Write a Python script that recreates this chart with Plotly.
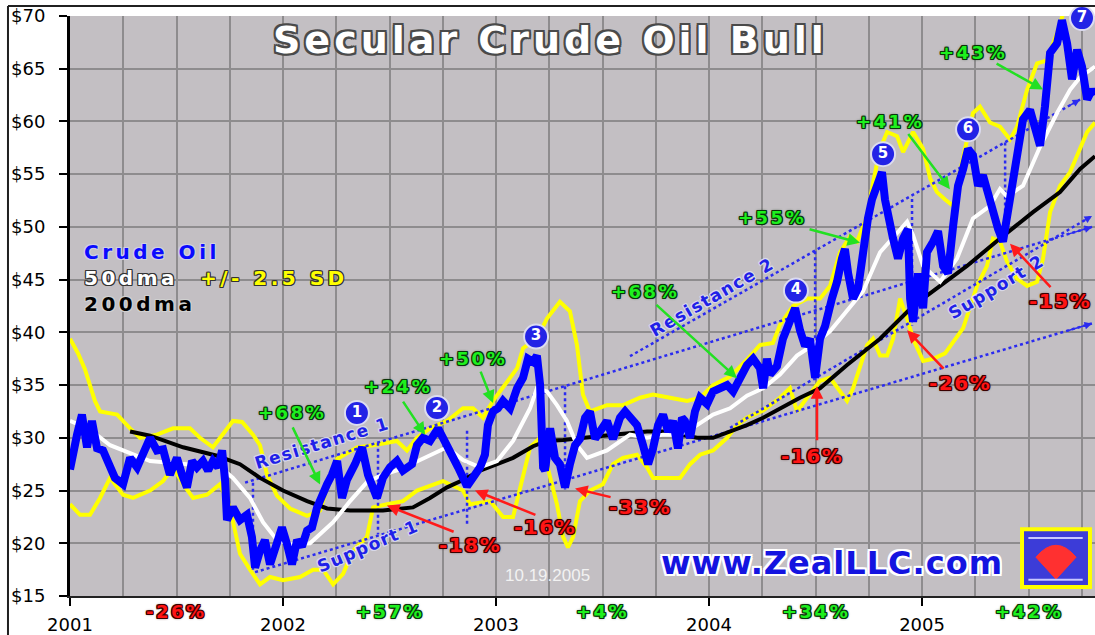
import plotly.graph_objects as go

# ---------------- data ----------------
crude_t = [2001.000, 2001.009, 2001.033, 2001.056, 2001.080, 2001.103, 2001.127, 2001.155, 2001.188, 2001.211,
           2001.249, 2001.282, 2001.315, 2001.343, 2001.376, 2001.408, 2001.437, 2001.469, 2001.502, 2001.526,
           2001.549, 2001.573, 2001.596, 2001.624, 2001.648, 2001.671, 2001.695, 2001.714, 2001.728, 2001.737,
           2001.765, 2001.798, 2001.831, 2001.854, 2001.869, 2001.892, 2001.915, 2001.939, 2001.972, 2001.995,
           2002.019, 2002.042, 2002.066, 2002.089, 2002.113, 2002.136, 2002.160, 2002.183, 2002.207, 2002.230,
           2002.254, 2002.277, 2002.300, 2002.338, 2002.371, 2002.399, 2002.423, 2002.441, 2002.469, 2002.502,
           2002.535, 2002.563, 2002.606, 2002.629, 2002.657, 2002.690, 2002.728, 2002.761, 2002.793, 2002.822,
           2002.864, 2002.892, 2002.925, 2002.948, 2002.962, 2002.986, 2003.009, 2003.033, 2003.066, 2003.099,
           2003.127, 2003.150, 2003.174, 2003.192, 2003.207, 2003.221, 2003.230, 2003.254, 2003.277, 2003.300,
           2003.324, 2003.347, 2003.371, 2003.394, 2003.418, 2003.441, 2003.465, 2003.488, 2003.521, 2003.549,
           2003.582, 2003.606, 2003.638, 2003.662, 2003.690, 2003.714, 2003.737, 2003.761, 2003.784, 2003.808,
           2003.831, 2003.854, 2003.873, 2003.887, 2003.911, 2003.934, 2003.958, 2003.991, 2004.019, 2004.052,
           2004.085, 2004.113, 2004.146, 2004.178, 2004.207, 2004.239, 2004.254, 2004.272, 2004.286, 2004.319,
           2004.347, 2004.380, 2004.404, 2004.427, 2004.451, 2004.474, 2004.498, 2004.521, 2004.545, 2004.577,
           2004.601, 2004.624, 2004.638, 2004.653, 2004.676, 2004.700, 2004.723, 2004.746, 2004.765, 2004.789,
           2004.812, 2004.826, 2004.840, 2004.864, 2004.887, 2004.911, 2004.934, 2004.944, 2004.958, 2004.981,
           2005.005, 2005.023, 2005.052, 2005.075, 2005.099, 2005.122, 2005.146, 2005.169, 2005.193, 2005.216,
           2005.239, 2005.263, 2005.286, 2005.310, 2005.333, 2005.357, 2005.380, 2005.404, 2005.427, 2005.451,
           2005.474, 2005.507, 2005.531, 2005.554, 2005.577, 2005.601, 2005.634, 2005.657, 2005.681, 2005.704,
           2005.728, 2005.751, 2005.775, 2005.798, 2005.812]
crude_p = [27.0, 28.2, 30.3, 32.2, 29.1, 31.6, 29.0, 28.8, 27.5, 26.2,
           25.6, 28.1, 27.2, 28.4, 30.0, 28.8, 28.9, 26.5, 28.1, 26.5,
           25.3, 27.8, 27.2, 27.8, 26.9, 27.8, 27.2, 28.8, 26.0, 22.2,
           23.4, 22.2, 22.7, 20.6, 17.7, 19.3, 20.3, 18.0, 20.4, 21.5,
           19.9, 18.0, 20.3, 19.7, 21.2, 21.5, 23.4, 24.6, 25.6, 26.5,
           27.8, 24.3, 26.0, 27.5, 29.1, 26.5, 25.0, 24.3, 26.2, 27.2,
           27.8, 26.9, 27.5, 29.3, 30.0, 29.7, 30.9, 29.7, 28.6, 27.2,
           25.4, 26.2, 27.2, 28.4, 31.2, 32.5, 32.8, 33.5, 32.8, 34.7,
           35.7, 37.5, 37.2, 37.8, 35.0, 27.2, 26.9, 30.9, 28.1, 27.5,
           25.3, 27.5, 29.3, 29.9, 31.9, 32.5, 29.9, 30.6, 31.6, 29.9,
           31.9, 32.5, 31.6, 31.2, 29.3, 27.5, 29.0, 31.2, 32.2, 30.6,
           31.6, 29.0, 31.9, 31.6, 30.0, 32.5, 33.8, 33.2, 34.4, 34.7,
           35.0, 34.4, 35.6, 36.9, 37.5, 36.6, 34.7, 37.5, 36.0, 36.8,
           39.4, 41.3, 42.3, 40.2, 38.7, 39.4, 35.7, 39.4, 40.6, 43.2,
           44.8, 47.0, 47.9, 45.6, 43.2, 44.2, 48.2, 50.8, 52.6, 53.8,
           55.2, 52.6, 51.0, 48.9, 47.0, 48.9, 49.8, 43.2, 41.0, 45.6,
           42.3, 47.6, 48.6, 49.6, 46.3, 45.6, 50.1, 53.9, 55.5, 57.4,
           56.8, 53.9, 54.9, 53.0, 51.4, 49.8, 48.6, 51.7, 54.9, 58.3,
           60.2, 61.1, 59.6, 57.7, 61.4, 66.5, 67.4, 69.6, 67.4, 64.0,
           66.8, 65.2, 62.1, 63.0, 62.5]

dma50_t = [2001.000, 2001.094, 2001.188, 2001.282, 2001.376, 2001.549, 2001.690, 2001.765, 2001.845, 2001.906,
           2001.972, 2002.033, 2002.127, 2002.235, 2002.315, 2002.394, 2002.469, 2002.549, 2002.690, 2002.770,
           2002.845, 2002.925, 2003.005, 2003.080, 2003.160, 2003.192, 2003.239, 2003.286, 2003.333, 2003.380,
           2003.427, 2003.521, 2003.629, 2003.709, 2003.784, 2003.864, 2003.944, 2004.019, 2004.099, 2004.178,
           2004.254, 2004.333, 2004.413, 2004.488, 2004.568, 2004.648, 2004.723, 2004.803, 2004.883, 2004.930,
           2004.958, 2005.005, 2005.085, 2005.164, 2005.239, 2005.319, 2005.366, 2005.399, 2005.474, 2005.554,
           2005.634, 2005.695, 2005.742, 2005.812]
dma50_p = [31.6, 30.8, 29.3, 28.5, 27.8, 27.5, 27.5, 26.2, 24.3, 22.0,
           20.3, 19.9, 20.0, 22.0, 24.0, 25.8, 26.5, 27.0, 28.4, 29.1,
           27.9, 27.2, 27.8, 29.7, 32.8, 34.7, 34.4, 33.1, 31.6, 29.3,
           28.1, 28.8, 30.3, 30.0, 30.3, 30.3, 31.2, 32.2, 32.8, 34.0,
           34.7, 36.0, 37.8, 38.8, 40.1, 42.0, 43.9, 47.6, 49.5, 50.5,
           49.2, 46.3, 44.8, 47.0, 50.8, 52.0, 53.6, 52.9, 53.9, 57.6,
           60.8, 63.0, 64.2, 65.2]

dma200_t = [2001.282, 2001.376, 2001.531, 2001.690, 2001.798, 2001.892, 2002.000, 2002.113, 2002.207, 2002.315,
            2002.469, 2002.610, 2002.690, 2002.770, 2002.845, 2002.925, 2003.005, 2003.080, 2003.174, 2003.239,
            2003.315, 2003.394, 2003.549, 2003.709, 2003.784, 2003.864, 2003.944, 2004.019, 2004.099, 2004.178,
            2004.254, 2004.333, 2004.427, 2004.521, 2004.648, 2004.803, 2004.958, 2005.085, 2005.211, 2005.366,
            2005.521, 2005.648, 2005.742, 2005.812]
dma200_p = [30.6, 30.2, 29.1, 28.3, 27.5, 26.2, 25.0, 24.0, 23.3, 23.1,
            23.1, 23.4, 24.3, 25.3, 26.0, 26.9, 27.5, 28.1, 29.2, 29.7,
            29.8, 30.0, 30.3, 30.6, 30.6, 30.3, 30.0, 30.0, 30.6, 31.2,
            31.9, 32.8, 33.8, 34.7, 36.9, 39.4, 42.5, 44.4, 46.3, 48.9,
            51.4, 53.3, 55.5, 56.7]

upper_t = [2001.000, 2001.038, 2001.070, 2001.117, 2001.141, 2001.221, 2001.282, 2001.329, 2001.408, 2001.484,
           2001.563, 2001.610, 2001.671, 2001.718, 2001.765, 2001.808, 2001.859, 2001.892, 2001.925, 2001.972,
           2002.033, 2002.113, 2002.174, 2002.221, 2002.254, 2002.348, 2002.423, 2002.535, 2002.582, 2002.629,
           2002.690, 2002.770, 2002.845, 2002.892, 2002.939, 2002.986, 2003.052, 2003.099, 2003.127, 2003.192,
           2003.239, 2003.300, 2003.347, 2003.380, 2003.408, 2003.441, 2003.521, 2003.596, 2003.676, 2003.737,
           2003.817, 2003.897, 2003.958, 2004.019, 2004.099, 2004.178, 2004.239, 2004.300, 2004.333, 2004.394,
           2004.460, 2004.521, 2004.568, 2004.615, 2004.662, 2004.695, 2004.742, 2004.770, 2004.803, 2004.836,
           2004.883, 2004.911, 2004.958, 2005.005, 2005.038, 2005.070, 2005.108, 2005.146, 2005.178, 2005.239,
           2005.272, 2005.319, 2005.366, 2005.413, 2005.446, 2005.493, 2005.540, 2005.587, 2005.634, 2005.662,
           2005.718, 2005.812]
upper_p = [39.4, 38.0, 36.5, 33.5, 32.5, 32.2, 30.9, 30.0, 30.3, 30.9,
           30.9, 30.0, 29.1, 30.3, 31.6, 31.5, 30.3, 29.3, 26.5, 24.5,
           23.3, 22.6, 23.1, 26.2, 28.0, 29.1, 29.3, 29.7, 28.8, 30.0,
           30.9, 31.6, 32.8, 32.8, 31.9, 33.5, 35.4, 36.6, 38.5, 39.4,
           41.3, 42.9, 42.0, 38.8, 34.1, 32.5, 33.1, 33.1, 33.8, 34.1,
           33.8, 33.5, 33.8, 35.0, 35.8, 37.4, 38.8, 39.0, 40.7, 42.5,
           43.2, 43.2, 44.4, 47.6, 49.1, 48.6, 51.0, 54.2, 57.4, 59.0,
           58.6, 57.1, 59.0, 57.4, 54.6, 53.3, 52.6, 52.0, 55.2, 60.8,
           61.4, 59.9, 59.5, 58.3, 59.5, 63.0, 65.5, 65.8, 68.4, 70.2,
           72.0, 72.5]

lower_t = [2001.000, 2001.047, 2001.094, 2001.141, 2001.188, 2001.249, 2001.296, 2001.376, 2001.437, 2001.484,
           2001.531, 2001.578, 2001.643, 2001.704, 2001.751, 2001.798, 2001.845, 2001.892, 2001.939, 2002.000,
           2002.080, 2002.141, 2002.188, 2002.235, 2002.282, 2002.329, 2002.394, 2002.423, 2002.488, 2002.563,
           2002.629, 2002.751, 2002.845, 2002.878, 2002.972, 2003.033, 2003.080, 2003.127, 2003.160, 2003.207,
           2003.254, 2003.286, 2003.315, 2003.338, 2003.362, 2003.394, 2003.441, 2003.502, 2003.549, 2003.596,
           2003.662, 2003.709, 2003.737, 2003.803, 2003.864, 2003.911, 2003.958, 2004.019, 2004.085, 2004.131,
           2004.178, 2004.254, 2004.333, 2004.380, 2004.413, 2004.460, 2004.521, 2004.568, 2004.615, 2004.648,
           2004.676, 2004.709, 2004.742, 2004.770, 2004.803, 2004.836, 2004.864, 2004.897, 2004.930, 2004.958,
           2005.005, 2005.052, 2005.108, 2005.193, 2005.258, 2005.305, 2005.333, 2005.366, 2005.399, 2005.446,
           2005.493, 2005.540, 2005.568, 2005.601, 2005.648, 2005.695, 2005.742, 2005.775, 2005.812]
lower_p = [23.7, 22.7, 22.7, 24.3, 26.2, 24.6, 24.3, 25.0, 25.9, 27.2,
           25.6, 24.3, 24.6, 25.6, 23.4, 19.0, 17.5, 16.1, 16.8, 16.5,
           16.8, 17.5, 17.5, 16.1, 17.1, 19.3, 20.6, 23.4, 23.7, 24.0,
           25.0, 25.9, 25.0, 23.7, 24.0, 22.5, 22.5, 26.5, 29.1, 30.0,
           26.2, 23.7, 20.6, 19.6, 20.6, 24.0, 25.0, 25.6, 27.5, 28.1,
           28.4, 27.2, 26.2, 26.2, 26.2, 27.5, 28.4, 28.8, 30.0, 31.2,
           31.9, 32.6, 33.8, 34.7, 32.5, 33.8, 35.4, 35.7, 34.4, 33.5,
           34.7, 36.9, 38.8, 39.4, 37.8, 37.8, 39.4, 43.2, 41.3, 39.4,
           37.3, 37.5, 38.0, 40.4, 44.4, 46.3, 48.9, 48.6, 46.7, 45.1,
           44.4, 44.8, 47.0, 51.4, 53.9, 55.2, 57.4, 59.0, 59.9]

year_ticks = [2001, 2002, 2003, 2004, 2005]
price_ticks = [15, 20, 25, 30, 35, 40, 45, 50, 55, 60, 65, 70]

annual_x = [2001.5, 2002.5, 2003.5, 2004.5, 2005.5]
annual_text = ["-26%", "+57%", "+4%", "+34%", "+42%"]

peak_t = [2002.347, 2002.723, 2003.188, 2004.408, 2004.817, 2005.216, 2005.751]
peak_p = [32.36, 32.83, 39.6, 43.96, 56.9, 59.25, 69.8]
peak_text = ["1", "2", "3", "4", "5", "6", "7"]

# trend channels: start / end points
trend_names = ["Resistance 1", "Support 1", "Resistance 2", "Support 2"]
trend_t0 = [2001.822, 2001.869, 2003.629, 2004.099]
trend_p0 = [25.75, 17.26, 37.74, 30.94]
trend_t1 = [2005.798, 2005.798, 2005.742, 2005.798]
trend_p1 = [50.0, 40.85, 62.08, 51.04]
trend_label_t = [2002.183, 2002.399, 2004.014, 2005.347]
trend_label_p = [29.53, 19.72, 43.4, 44.34]
trend_label_angle = [-17, -23, -30, -31]

# vertical measuring lines
vline_t = [2001.859, 2002.446, 2002.864, 2003.324, 2004.498, 2004.953, 2005.390]
vline_p0 = [25.75, 29.53, 30.66, 34.9, 47.7, 52.64, 58.0]
vline_p1 = [17.45, 20.85, 21.7, 25.1, 35.4, 40.66, 48.87]

# gain (green) / loss (red) call-outs: text position, arrow tail, arrow head
gain_text = ["+68%", "+24%", "+50%", "+68%", "+55%", "+41%", "+43%"]
gain_tx = [2002.042, 2002.540, 2002.892, 2003.700, 2004.296, 2004.850, 2005.239]
gain_ty = [32.36, 34.9, 37.55, 43.87, 50.94, 60.0, 66.51]
gain_at = [2002.042, 2002.559, 2002.925, 2003.746, 2004.465, 2004.930, 2005.343]
gain_ap = [31.13, 33.58, 36.42, 42.74, 49.81, 58.96, 65.57]
gain_ht = [2002.174, 2002.667, 2002.986, 2004.131, 2004.709, 2005.131, 2005.568]
gain_hp = [25.57, 30.28, 33.3, 35.66, 48.49, 53.58, 63.02]

loss_text = ["-18%", "-16%", "-33%", "-16%", "-26%", "-15%"]
loss_tx = [2002.878, 2003.230, 2003.676, 2004.484, 2005.178, 2005.648]
loss_ty = [19.81, 21.51, 23.40, 28.3, 35.19, 43.02]
loss_at = [2002.808, 2003.192, 2003.545, 2004.507, 2005.108, 2005.610]
loss_ap = [21.04, 22.64, 24.34, 29.62, 36.42, 44.15]
loss_ht = [2002.488, 2002.901, 2003.371, 2004.507, 2004.930, 2005.413]
loss_hp = [23.58, 25.0, 25.19, 34.9, 40.19, 48.4]

# ---------------- styling helpers ----------------
BG = "#c3bfc3"
GRID = "#8e8c8e"
BLUE = "#0000ff"
DOT_BLUE = "#2b2bf0"
GREEN = "#1ef01e"
RED = "#ff1414"
BOLD = "DejaVu Sans"


def outline(color, w=1, blur=None):
    parts = []
    for dx, dy in [(-w, -w), (w, -w), (-w, w), (w, w), (0, w), (w, 0), (-w, 0), (0, -w)]:
        parts.append(f"{dx}px {dy}px 0 {color}")
    if blur:
        parts.append(f"0 0 {blur}px {color}")
    return ", ".join(parts)


def spaced(text, px):
    return f'<span style="letter-spacing:{px}px"><b>{text}</b></span>'


fig = go.Figure()

# bands
fig.add_trace(go.Scatter(x=upper_t, y=upper_p, mode="lines", line=dict(color="#ffff00", width=4)))
fig.add_trace(go.Scatter(x=lower_t, y=lower_p, mode="lines", line=dict(color="#ffff00", width=4)))

# trend channel lines
for i in range(len(trend_names)):
    fig.add_trace(go.Scatter(x=[trend_t0[i], trend_t1[i]], y=[trend_p0[i], trend_p1[i]], mode="lines",
                             line=dict(color=DOT_BLUE, width=2.5, dash="dot")))
for i in range(len(vline_t)):
    fig.add_trace(go.Scatter(x=[vline_t[i], vline_t[i]], y=[vline_p0[i], vline_p1[i]], mode="lines",
                             line=dict(color=DOT_BLUE, width=2.5, dash="dot")))

# moving averages and price
fig.add_trace(go.Scatter(x=dma200_t, y=dma200_p, mode="lines", line=dict(color="#000000", width=4)))
fig.add_trace(go.Scatter(x=dma50_t, y=dma50_p, mode="lines", line=dict(color="#ffffff", width=4)))
fig.add_trace(go.Scatter(x=crude_t, y=crude_p, mode="lines", line=dict(color=BLUE, width=8)))

# numbered peaks
fig.add_trace(go.Scatter(x=peak_t, y=peak_p, mode="markers+text", text=peak_text,
                         textposition="middle center", cliponaxis=False,
                         marker=dict(size=24, color="#2323e6", line=dict(color="#dcdcf0", width=2)),
                         textfont=dict(family=BOLD, size=15, color="white", weight="bold")))

ann = []
for i in range(len(trend_names)):
    dt = trend_t1[i] - trend_t0[i]
    dp = trend_p1[i] - trend_p0[i]
    ann.append(dict(x=trend_t1[i], y=trend_p1[i], ax=trend_t1[i] - dt * 0.03, ay=trend_p1[i] - dp * 0.03,
                    xref="x", yref="y", axref="x", ayref="y", text="", showarrow=True,
                    arrowhead=2, arrowsize=1, arrowwidth=1.5, arrowcolor=DOT_BLUE))
    ann.append(dict(x=trend_label_t[i], y=trend_label_p[i], xref="x", yref="y", text=spaced(trend_names[i], 1.5),
                    showarrow=False, textangle=trend_label_angle[i], xanchor="center", yanchor="middle",
                    font=dict(family=BOLD, size=17, color="#2020e8", shadow=outline("#d8d8e8", 1))))

for i in range(len(gain_text)):
    ann.append(dict(x=gain_ht[i], y=gain_hp[i], ax=gain_at[i], ay=gain_ap[i], xref="x", yref="y",
                    axref="x", ayref="y", text="", showarrow=True, arrowhead=2, arrowsize=1,
                    arrowwidth=2.5, arrowcolor="#22e022"))
    ann.append(dict(x=gain_tx[i], y=gain_ty[i], xref="x", yref="y", text=spaced(gain_text[i], 2.5),
                    showarrow=False, xanchor="center", yanchor="middle",
                    font=dict(family=BOLD, size=18, color=GREEN, shadow=outline("#0b330b", 1, 3))))
for i in range(len(loss_text)):
    ann.append(dict(x=loss_ht[i], y=loss_hp[i], ax=loss_at[i], ay=loss_ap[i], xref="x", yref="y",
                    axref="x", ayref="y", text="", showarrow=True, arrowhead=2, arrowsize=1,
                    arrowwidth=2.5, arrowcolor="#ff1a1a"))
    ann.append(dict(x=loss_tx[i], y=loss_ty[i], xref="x", yref="y", text=spaced(loss_text[i], 1.5),
                    showarrow=False, xanchor="center", yanchor="middle",
                    font=dict(family=BOLD, size=20, color=RED, shadow=outline("#3a0000", 1, 3))))

for i in range(len(annual_text)):
    neg = annual_text[i].startswith("-")
    ann.append(dict(x=annual_x[i], y=-0.0274, xref="x", yref="paper", text=spaced(annual_text[i], 2.5),
                    showarrow=False, xanchor="center", yanchor="middle",
                    font=dict(family=BOLD, size=18, color=RED if neg else GREEN,
                              shadow=outline("#3a0000" if neg else "#0b330b", 1, 3))))

# title, legend and credits
ann.append(dict(x=0.4683, y=0.9588, xref="paper", yref="paper", text=spaced("Secular Crude Oil Bull", 4),
                showarrow=False, xanchor="center", yanchor="middle",
                font=dict(family=BOLD, size=38, color="white", shadow=outline("#4a4a4a", 2))))
legend_items = [("Crude Oil", 0.0117, 0.5935, "#0a0aff", "#d0d0e0"),
                ("50dma", 0.0117, 0.5489, "white", "#333333"),
                ("+/- 2.5 SD", 0.1249, 0.5489, "#ffff00", "#333333"),
                ("200dma", 0.0117, 0.5026, "black", "#d0d0d0")]
for txt, lx, ly, col, oc in legend_items:
    ann.append(dict(x=lx, y=ly, xref="paper", yref="paper", xanchor="left", yanchor="middle",
                    text=spaced(txt, 3.5), showarrow=False,
                    font=dict(family=BOLD, size=20, color=col, shadow=outline(oc, 1))))
ann.append(dict(x=0.7434, y=0.0566, xref="paper", yref="paper", text=spaced("www.ZealLLC.com", 1),
                showarrow=False, xanchor="center", yanchor="middle",
                font=dict(family=BOLD, size=32, color="#1414e0", shadow=outline("#ffffff", 2))))
ann.append(dict(x=0.4663, y=0.036, xref="paper", yref="paper", text="10.19.2005",
                showarrow=False, xanchor="center", yanchor="middle",
                font=dict(family="Liberation Sans", size=17, color="#f2f2f2")))

shapes = [
    dict(type="line", xref="paper", yref="paper", x0=-0.0605, x1=1.0, y0=1.0172, y1=1.0172,
         line=dict(color="#202020", width=2)),
    dict(type="line", xref="paper", yref="paper", x0=-0.0605, x1=-0.0605, y0=-0.07, y1=1.0172,
         line=dict(color="#202020", width=2)),
    dict(type="rect", xref="paper", yref="paper", x0=0.9288, x1=0.9951, y0=0.0154, y1=0.1149,
         fillcolor="#3c3cd8", line=dict(color="#ffff00", width=4)),
    dict(type="path", xref="paper", yref="paper",
         path="M 0.962 0.029 L 0.9424 0.0669 Q 0.962 0.108 0.9815 0.0669 Z",
         fillcolor="#ff3030", line=dict(color="#ff3030", width=1)),
    dict(type="line", xref="paper", yref="paper", x0=0.935, x1=0.988, y0=0.100, y1=0.100,
         line=dict(color="#c8c8ff", width=2)),
    dict(type="line", xref="paper", yref="paper", x0=0.935, x1=0.988, y0=0.028, y1=0.028,
         line=dict(color="#c8c8ff", width=2)),
]

fig.update_layout(
    width=1095, height=635,
    margin=dict(l=70, r=0, t=16, b=36),
    paper_bgcolor="white", plot_bgcolor=BG,
    showlegend=False, hovermode=False,
    annotations=ann, shapes=shapes,
    xaxis=dict(range=[2001, 2005.812], tickvals=year_ticks, ticktext=[str(y) for y in year_ticks],
               showgrid=True, gridcolor=GRID, gridwidth=1.5,
               minor=dict(dtick=0.25, tick0=2001, showgrid=True, gridcolor=GRID, gridwidth=1.5),
               showline=True, linecolor="#222222", linewidth=2,
               ticks="outside", ticklen=8, tickwidth=2, tickcolor="black",
               tickfont=dict(family="DejaVu Sans", size=18, color="black"), zeroline=False,
               ticklabelstandoff=3),
    yaxis=dict(range=[15, 70], tickvals=price_ticks, ticktext=[f"${v}" for v in price_ticks],
               showgrid=True, gridcolor=GRID, gridwidth=1.5,
               showline=True, linecolor="black", linewidth=3,
               ticks="outside", ticklen=8, tickwidth=2, tickcolor="black",
               tickfont=dict(family="DejaVu Sans", size=18, color="black"), zeroline=False,
               ticklabelstandoff=10),
)

fig.write_html("out.html", config={"displayModeBar": False},
               post_script="document.body.style.margin='0px';")
